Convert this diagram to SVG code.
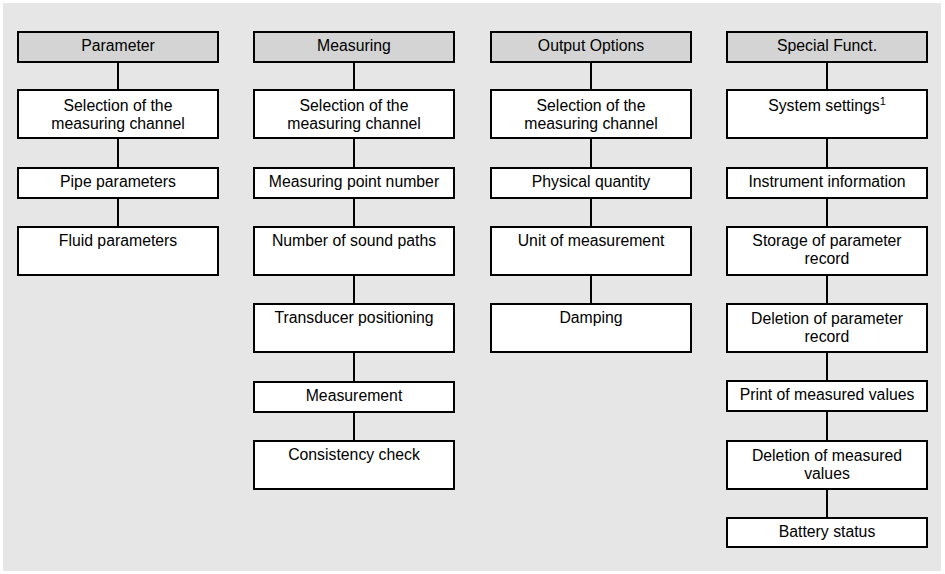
<svg xmlns="http://www.w3.org/2000/svg" width="945" height="574" viewBox="0 0 945 574">
<style>
.bg{fill:#e6e6e6}
.box{fill:#ffffff;stroke:#000;stroke-width:2}
.hdr{fill:#d4d4d4;stroke:#000;stroke-width:2}
.t{font-family:"Liberation Sans",Arial,sans-serif;font-size:15.8px;fill:#000;text-anchor:middle}
.sup{font-size:11px}
.c{stroke:#000;stroke-width:2;fill:none}
</style>
<rect class="bg" x="3" y="3" width="938" height="568"/>
<g id="connectors">
<line class="c" x1="118" y1="62" x2="118" y2="227"/>
<line class="c" x1="354" y1="62" x2="354" y2="441"/>
<line class="c" x1="591" y1="62" x2="591" y2="304"/>
<line class="c" x1="827" y1="62" x2="827" y2="518"/>
</g>
<g id="col1">
<g id="parameter"><rect class="hdr" x="18" y="32" width="200" height="30"/><text class="t" x="118" y="51">Parameter</text></g>
<g id="p-sel"><rect class="box" x="18" y="90" width="200" height="48"/><text class="t" x="118" y="110.5">Selection of the</text><text class="t" x="118" y="128.5">measuring channel</text></g>
<g id="p-pipe"><rect class="box" x="18" y="168" width="200" height="30"/><text class="t" x="118" y="187">Pipe parameters</text></g>
<g id="p-fluid"><rect class="box" x="18" y="227" width="200" height="48"/><text class="t" x="118" y="246">Fluid parameters</text></g>
</g>
<g id="col2">
<g id="measuring"><rect class="hdr" x="254" y="32" width="200" height="30"/><text class="t" x="354" y="51">Measuring</text></g>
<g id="m-sel"><rect class="box" x="254" y="90" width="200" height="48"/><text class="t" x="354" y="110.5">Selection of the</text><text class="t" x="354" y="128.5">measuring channel</text></g>
<g id="m-point"><rect class="box" x="254" y="168" width="200" height="30"/><text class="t" x="354" y="187">Measuring point number</text></g>
<g id="m-sound"><rect class="box" x="254" y="227" width="200" height="48"/><text class="t" x="354" y="246">Number of sound paths</text></g>
<g id="m-trans"><rect class="box" x="254" y="304" width="200" height="48"/><text class="t" x="354" y="323">Transducer positioning</text></g>
<g id="m-meas"><rect class="box" x="254" y="382" width="200" height="30"/><text class="t" x="354" y="401">Measurement</text></g>
<g id="m-cons"><rect class="box" x="254" y="441" width="200" height="48"/><text class="t" x="354" y="460">Consistency check</text></g>
</g>
<g id="col3">
<g id="output"><rect class="hdr" x="491" y="32" width="200" height="30"/><text class="t" x="591" y="51">Output Options</text></g>
<g id="o-sel"><rect class="box" x="491" y="90" width="200" height="48"/><text class="t" x="591" y="110.5">Selection of the</text><text class="t" x="591" y="128.5">measuring channel</text></g>
<g id="o-phys"><rect class="box" x="491" y="168" width="200" height="30"/><text class="t" x="591" y="187">Physical quantity</text></g>
<g id="o-unit"><rect class="box" x="491" y="227" width="200" height="48"/><text class="t" x="591" y="246">Unit of measurement</text></g>
<g id="o-damp"><rect class="box" x="491" y="304" width="200" height="48"/><text class="t" x="591" y="323">Damping</text></g>
</g>
<g id="col4">
<g id="special"><rect class="hdr" x="727" y="32" width="200" height="30"/><text class="t" x="827" y="51">Special Funct.</text></g>
<g id="s-sys"><rect class="box" x="727" y="90" width="200" height="48"/><text class="t" x="827" y="110.5">System settings<tspan class="sup" dy="-6">1</tspan></text></g>
<g id="s-instr"><rect class="box" x="727" y="168" width="200" height="30"/><text class="t" x="827" y="187">Instrument information</text></g>
<g id="s-store"><rect class="box" x="727" y="227" width="200" height="48"/><text class="t" x="827" y="246">Storage of parameter</text><text class="t" x="827" y="264">record</text></g>
<g id="s-delp"><rect class="box" x="727" y="304" width="200" height="48"/><text class="t" x="827" y="323.5">Deletion of parameter</text><text class="t" x="827" y="341.5">record</text></g>
<g id="s-print"><rect class="box" x="727" y="381" width="200" height="30"/><text class="t" x="827" y="400">Print of measured values</text></g>
<g id="s-delm"><rect class="box" x="727" y="441" width="200" height="48"/><text class="t" x="827" y="460.5">Deletion of measured</text><text class="t" x="827" y="478.5">values</text></g>
<g id="s-batt"><rect class="box" x="727" y="518" width="200" height="29"/><text class="t" x="827" y="537">Battery status</text></g>
</g>
</svg>
